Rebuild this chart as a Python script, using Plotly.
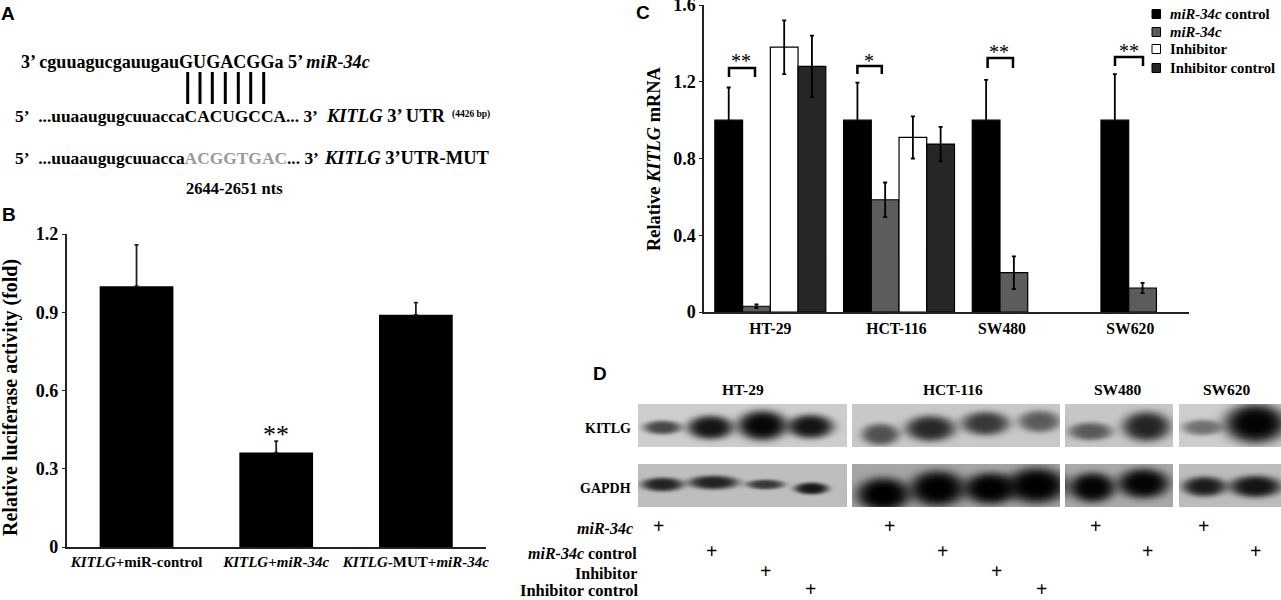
import numpy as np
import plotly.graph_objects as go

W, H = 1281, 600
SERIF = "Liberation Serif"

# panel B
luc_labels = ["<i>KITLG</i>+miR-control", "<i>KITLG</i>+<i>miR-34c</i>", "<i>KITLG</i>-MUT+<i>miR-34c</i>"]
luc_values = [1.0, 0.362, 0.89]
luc_errors = [0.158, 0.044, 0.047]
luc_ticks = [0, 0.3, 0.6, 0.9, 1.2]
luc_ticktext = ["0", "0.3", "0.6", "0.9", "1.2"]

# panel C
cell_lines = ["HT-29", "HCT-116", "SW480", "SW620"]
cell_tickpos = [0, 0.98, 1.8, 2.797]
mrna_ticks = [0, 0.4, 0.8, 1.2, 1.6]
mrna_ticktext = ["0", "0.4", "0.8", "1.2", "1.6"]
series_names = ["<i>miR-34c</i> control", "<i>miR-34c</i>", "Inhibitor", "Inhibitor control"]
series_colors = ["#000000", "#5c5c5c", "#ffffff", "#262626"]
control_vals = [1.0, 1.0, 1.0, 1.0]
control_errs = [0.17, 0.195, 0.21, 0.24]
mir_vals = [0.03, 0.585, 0.205, 0.125]
mir_errs = [0.01, 0.09, 0.085, 0.027]
inhib_vals = [1.38, 0.91, None, None]
inhib_errs = [0.14, 0.11, None, None]
inhib_ctrl_vals = [1.28, 0.875, None, None]
inhib_ctrl_errs = [0.16, 0.09, None, None]

# panel D, band strength (0 = background, 1 = black)
kitlg_bands = [0.65, 0.9, 0.97, 0.9, 0.6, 0.8, 0.72, 0.55, 0.55, 0.82, 0.45, 0.99]
gapdh_bands = [0.82, 0.82, 0.7, 0.88, 1.0, 1.0, 1.0, 1.0, 0.98, 0.98, 0.85, 0.9]
blot_backgrounds = [[205, 200, 198, 205], [190, 165, 168, 188]]


def fx(px):
    return px / W


def fy(py):
    return 1 - py / H


def label(x, y, text, size=14, anchor="center", bold=True, color="#000000", family=SERIF, angle=0):
    return dict(x=fx(x), y=fy(y), xref="paper", yref="paper", text=text, showarrow=False,
                xanchor=anchor, yanchor="middle", textangle=angle,
                font=dict(family=family, size=size, color=color, weight=700 if bold else 400))


fig = go.Figure()

# B bars
fig.add_trace(go.Bar(x=[0, 1, 2], y=luc_values, marker=dict(color="#000000", line=dict(width=0)),
                     error_y=dict(type="data", symmetric=False, array=luc_errors, arrayminus=[0, 0, 0],
                                  color="#222222", thickness=1.8, width=2),
                     xaxis="x", yaxis="y", showlegend=False, width=0.528))

# C bars
groups = [(control_vals, control_errs), (mir_vals, mir_errs), (inhib_vals, inhib_errs), (inhib_ctrl_vals, inhib_ctrl_errs)]
for i, (vals, errs) in enumerate(groups):
    fig.add_trace(go.Bar(x=[0, 1, 2, 3], y=vals, name=series_names[i],
                         marker=dict(color=series_colors[i], line=dict(color="#000000", width=1.2)),
                         error_y=dict(type="data", array=errs, color="#000000", thickness=1.8, width=2),
                         xaxis="x2", yaxis="y2", showlegend=False))

# D blots: one grey picture in page pixels
blot_x = [(638, 847), (852, 1060), (1065, 1173), (1179, 1281)]
row_y = [(404, 447), (464, 507)]
# lane x, lane y, half width, half height
kitlg_lanes = [(662, 427, 19, 7), (710, 427, 23, 12), (762, 425, 25, 15), (810, 426, 23, 12),
               (880, 434, 19, 11), (930, 428, 25, 13), (985, 423, 24, 12), (1039, 421, 21, 11),
               (1090, 431, 22, 9), (1146, 426, 24, 15),
               (1202, 427, 20, 8), (1255, 423, 31, 20)]
gapdh_lanes = [(662, 484, 21, 7), (713, 482, 25, 7), (765, 484, 19, 5), (811, 488, 17, 6),
               (883, 494, 27, 17), (937, 488, 28, 18), (990, 488, 27, 16), (1036, 485, 30, 18),
               (1092, 487, 23, 15), (1143, 483, 26, 15),
               (1204, 486, 22, 10), (1255, 486, 26, 11)]

gx = np.arange(638, 1281)
gy = np.arange(404, 507)
xx, yy = np.meshgrid(gx, gy)
blot = np.full(xx.shape, np.nan)
for r, (y0, y1) in enumerate(row_y):
    for c, (x0, x1) in enumerate(blot_x):
        cell = (xx >= x0) & (xx < x1) & (yy >= y0) & (yy < y1)
        blot[cell] = blot_backgrounds[r][c]
for lanes, strengths in ((kitlg_lanes, kitlg_bands), (gapdh_lanes, gapdh_bands)):
    for (lx, ly, hw, hh), s in zip(lanes, strengths):
        d = ((xx - lx) / hw) ** 2 + ((yy - ly) / hh) ** 2
        blot = blot * (1 - s * np.exp(-(d ** 2)))

fig.add_trace(go.Heatmap(x=gx, y=gy, z=blot, zmin=0, zmax=255, showscale=False, hoverinfo="skip",
                         colorscale=[[0, "#000000"], [1, "#ffffff"]], xaxis="x3", yaxis="y3"))

axis_line = dict(showline=True, linecolor="#222222", linewidth=1.8, showgrid=False, zeroline=False,
                 automargin=False, ticklabeloverflow="allow")
fig.update_layout(
    width=W, height=H, margin=dict(l=0, r=0, t=0, b=0), autosize=False,
    paper_bgcolor="#ffffff", plot_bgcolor="rgba(0,0,0,0)", bargroupgap=0, bargap=0.138,
    xaxis=dict(domain=[fx(66.7), fx(485.7)], range=[-0.5, 2.5], tickvals=[0, 1, 2], ticktext=luc_labels,
               anchor="y", ticks="", tickfont=dict(family=SERIF, size=15, color="#000000", weight=700),
               ticklabelstandoff=0, **axis_line),
    yaxis=dict(domain=[fy(547), fy(234)], range=[0, 1.2], tickvals=luc_ticks, ticktext=luc_ticktext,
               anchor="x", ticks="outside", ticklen=3, tickcolor="#222222",
               tickfont=dict(family=SERIF, size=18, color="#000000", weight=700), **axis_line),
    xaxis2=dict(domain=[fx(704.3), fx(1189)], range=[-0.513, 3.253], tickvals=cell_tickpos, ticktext=cell_lines,
                anchor="y2", ticks="", tickfont=dict(family=SERIF, size=15.7, color="#000000", weight=700),
                ticklabelstandoff=1, **axis_line),
    yaxis2=dict(domain=[fy(312), fy(5)], range=[0, 1.6], tickvals=mrna_ticks, ticktext=mrna_ticktext,
                anchor="x2", ticks="outside", ticklen=3, tickcolor="#222222",
                tickfont=dict(family=SERIF, size=18, color="#000000", weight=700), **axis_line),
    xaxis3=dict(domain=[fx(638), 1], range=[637.5, 1280.5], visible=False, anchor="y3"),
    yaxis3=dict(domain=[fy(507), fy(404)], range=[506.5, 403.5], visible=False, anchor="x3"),
)

notes = [
    # panel letters
    label(8, 13, "A", 19, family="Liberation Sans"),
    label(9, 214, "B", 19, family="Liberation Sans"),
    label(643, 12, "C", 19, family="Liberation Sans"),
    label(600, 373, "D", 19, family="Liberation Sans"),
    # axis titles
    label(10, 398, "Relative luciferase activity (fold)", 20, angle=-90),
    label(654, 159, "Relative <i>KITLG</i> mRNA", 18.4, angle=-90),
    # panel A
    label(19, 62, "3’ cguuagucgauugauGUGACGGa 5’ <i>miR-34c</i>", 18.1, "left"),
    label(13, 116, "5’\u00a0 ...uuaaugugcuuaccaCACUGCCA... 3’", 17.4, "left"),
    label(324, 116, "<i>KITLG</i> 3’ UTR", 18.5, "left"),
    label(450, 115, "(4426 bp)", 9.5, "left"),
    label(13, 158, "5’\u00a0 ...uuaaugugcuuacca<span style='color:#999999'>ACGGTGAC</span>... 3’", 17.4, "left"),
    label(322, 158, "<i>KITLG</i> 3’UTR-MUT", 18.5, "left"),
    label(234, 188, "2644-2651 nts", 16.5),
    # panel B star
    label(276, 434, "**", 26, bold=False),
]

# stars and brackets in panel C
bracket_x = [(729, 755), (857.4, 881.8), (987.6, 1013), (1115, 1143)]
bracket_y = [(68, 77), (66, 74), (58, 68), (57, 66)]
stars = ["**", "*", "**", "**"]
star_pos = [(741, 61), (869, 61), (999.4, 52), (1129, 51)]
shapes = []
for (x0, x1), (y0, y1), s, (sx, sy) in zip(bracket_x, bracket_y, stars, star_pos):
    shapes.append(dict(type="path", xref="paper", yref="paper",
                       path=f"M {fx(x0)} {fy(y1)} L {fx(x0)} {fy(y0)} L {fx(x1)} {fy(y0)} L {fx(x1)} {fy(y1)}",
                       line=dict(color="#000000", width=2.5)))
    notes.append(label(sx, sy, s, 20, bold=False))

# base pairing ticks in panel A
for px in [187.7, 200, 212.3, 225.3, 238.3, 250.7, 263.7]:
    shapes.append(dict(type="line", xref="paper", yref="paper", x0=fx(px), x1=fx(px), y0=fy(72), y1=fy(104),
                       line=dict(color="#000000", width=3)))

# legend of panel C
legend_y = [14, 32, 49, 68]
for name, color, ly in zip(series_names, series_colors, legend_y):
    shapes.append(dict(type="rect", xref="paper", yref="paper", x0=fx(1152), x1=fx(1160.5), y0=fy(ly - 4.5), y1=fy(ly + 4.5),
                       fillcolor=color, line=dict(color="#000000", width=1)))
    notes.append(label(1168, ly, name, 14.7, "left"))

# panel D text
for name, x in zip(cell_lines, [743, 953, 1118.4, 1227]):
    notes.append(label(x, 389, name, 15.5))
notes.append(label(633, 428, "KITLG", 14, "right"))
notes.append(label(633, 488, "GAPDH", 14, "right"))
notes.append(label(635, 528, "<i>miR-34c</i>", 16, "right"))
notes.append(label(639, 553, "<i>miR-34c</i> control", 16, "right"))
notes.append(label(639, 573, "Inhibitor", 16, "right"))
notes.append(label(641, 590, "Inhibitor control", 16.5, "right"))
plus_x = [[658.8, 889.8, 1095, 1203.4], [711.7, 942, 1147.5, 1255.8], [765.6, 996.6], [810, 1041]]
plus_y = [526, 550.7, 571, 588.5]
for xs, py in zip(plus_x, plus_y):
    for px in xs:
        notes.append(label(px, py, "+", 20))

fig.update_layout(annotations=notes, shapes=shapes)
fig.write_html("out.html", config=dict(displayModeBar=False),
               post_script="document.body.style.margin='0';document.body.style.overflow='hidden';")
